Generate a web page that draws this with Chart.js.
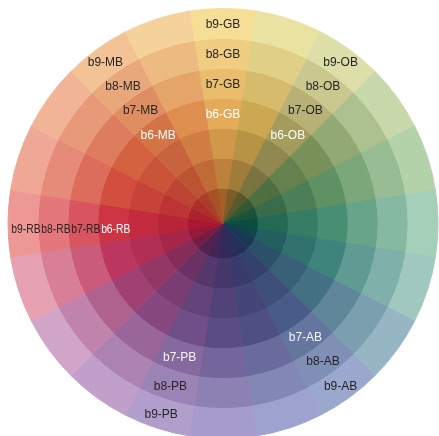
<!DOCTYPE html>
<html>
<head>
<meta charset="utf-8">
<script src="https://cdn.jsdelivr.net/npm/chart.js@4.4.0/dist/chart.umd.min.js"></script>
<style>
html, body { margin: 0; padding: 0; background: #fff; overflow: hidden; }
#wrap { width: 439px; height: 439px; }
</style>
</head>
<body>
<div id="wrap"><canvas id="wheel" width="439" height="439"></canvas></div>
<script>
// rings, outermost first (Chart.js draws dataset 0 outside)
const rings = ['b9', 'b8', 'b7', 'b6', 'b5', 'b4', 'b3'];
// 20 equal hue segments, first one centred at the top
const segmentValues = [1, 1, 1, 1, 1, 1, 1, 1, 1, 1, 1, 1, 1, 1, 1, 1, 1, 1, 1, 1];

// which segment / rings carry a text label
const labelFamilies = ['GB', 'OB', 'AB', 'PB', 'RB', 'MB'];
const labelSegments = [0, 2, 8, 11, 15, 18];
const labelRings = [
    ['b6', 'b7', 'b8', 'b9'],
    ['b6', 'b7', 'b8', 'b9'],
    ['b7', 'b8', 'b9'],
    ['b7', 'b8', 'b9'],
    ['b6', 'b7', 'b8', 'b9'],
    ['b6', 'b7', 'b8', 'b9']
];

// colour anchors per segment: outer ring (b9), middle (b6), inner disk (b3)
const outerColors = [
    [246, 222, 150], [234, 226, 160], [222, 222, 168], [200, 216, 170], [180, 210, 170],
    [165, 207, 185], [160, 200, 192], [150, 182, 196], [155, 168, 205], [158, 162, 206],
    [165, 155, 204], [178, 158, 204], [192, 160, 202], [208, 165, 200], [230, 162, 178],
    [238, 152, 150], [240, 168, 150], [241, 180, 150], [243, 195, 150], [245, 210, 155]
];
const midColors = [
    [228, 172, 88], [205, 168, 82], [165, 155, 92], [120, 145, 88], [95, 145, 100],
    [72, 142, 115], [62, 132, 125], [68, 112, 132], [72, 92, 135], [78, 80, 132],
    [92, 76, 132], [112, 78, 135], [135, 72, 128], [160, 65, 115], [188, 55, 95],
    [205, 52, 68], [210, 78, 62], [212, 98, 65], [212, 115, 70], [222, 142, 78]
];
const innerColors = [
    [160, 98, 40], [125, 92, 40], [90, 88, 45], [52, 88, 50], [28, 82, 55],
    [10, 78, 62], [15, 68, 75], [25, 56, 85], [35, 48, 90], [42, 44, 90],
    [52, 40, 88], [65, 38, 86], [85, 33, 78], [115, 28, 68], [150, 24, 58],
    [168, 24, 48], [172, 34, 44], [172, 48, 40], [170, 62, 38], [168, 82, 38]
];
// how far each inner ring moves from the middle colour towards the inner one
const innerSteps = { b5: 0.28, b4: 0.58, b3: 1 };

function mix(a, b, t) {
    return a.map((v, i) => Math.round(v + (b[i] - v) * t));
}

function ringColor(seg, ring) {
    const level = parseInt(ring.slice(1), 10);
    let c;
    if (level >= 6) {
        c = mix(midColors[seg], outerColors[seg], (level - 6) / 3);
    } else {
        c = mix(midColors[seg], innerColors[seg], innerSteps[ring]);
    }
    return `rgb(${c[0]}, ${c[1]}, ${c[2]})`;
}

function labelColor(family, ring) {
    if (ring === 'b6') return '#ffffff';
    if (ring === 'b7' && (family === 'AB' || family === 'PB')) return '#f4f4f8';
    return '#262626';
}

const ringLabels = {
    id: 'ringLabels',
    afterDatasetsDraw(chart) {
        const ctx = chart.ctx;
        labelFamilies.forEach((fam, i) => {
            labelRings[i].forEach(r => {
                const arc = chart.getDatasetMeta(rings.indexOf(r)).data[labelSegments[i]];
                const p = arc.getCenterPoint();
                ctx.save();
                ctx.font = '12px "Liberation Sans", Arial, sans-serif';
                ctx.textAlign = 'center';
                ctx.textBaseline = 'middle';
                ctx.fillStyle = labelColor(fam, r);
                if (fam === 'RB') {
                    // the left-hand labels are squeezed in the original
                    ctx.translate(p.x + 3, p.y + 6);
                    ctx.scale(0.86, 1);
                    ctx.fillText(r + '-' + fam, 0, 0);
                } else {
                    ctx.fillText(r + '-' + fam, p.x, p.y + 1);
                }
                ctx.restore();
            });
        });
    }
};

const datasets = rings.map(r => {
    const colors = segmentValues.map((v, s) => ringColor(s, r));
    return {
        label: r,
        data: segmentValues,
        backgroundColor: colors,
        borderColor: colors,
        borderWidth: 1,
        weight: r === 'b3' ? 35.5 : 30
    };
});

new Chart(document.getElementById('wheel'), {
    type: 'doughnut',
    data: {
        labels: segmentValues.map((v, i) => 'segment ' + (i + 1)),
        datasets: datasets
    },
    options: {
        responsive: false,
        animation: false,
        events: [],
        cutout: 0,
        rotation: -9,
        layout: { padding: { left: 7, top: 8, right: 0, bottom: 0 } },
        plugins: {
            legend: { display: false },
            tooltip: { enabled: false }
        }
    },
    plugins: [ringLabels]
});
</script>
</body>
</html>
